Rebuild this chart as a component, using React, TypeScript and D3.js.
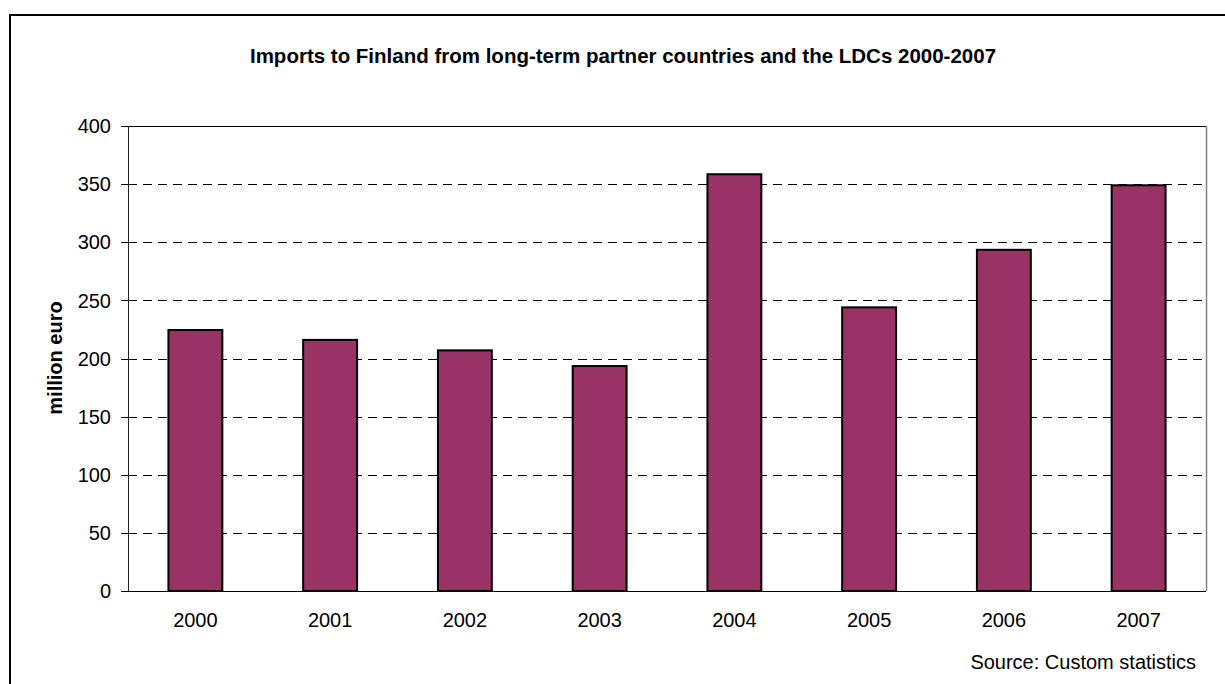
import React from "react";
import * as d3 from "d3";

const years = ["2000", "2001", "2002", "2003", "2004", "2005", "2006", "2007"];
const imports = [224.5, 216, 207, 193.5, 358.5, 244, 293.5, 349];
const yTicks = [0, 50, 100, 150, 200, 250, 300, 350, 400];

const W = 1225;
const H = 684;
const M = { left: 128, right: 1206, top: 126, bottom: 591 };
const FONT = "'Liberation Sans', Arial, sans-serif";

export default function App() {
  const x = d3
    .scaleBand<string>()
    .domain(years)
    .range([M.left, M.right])
    .paddingInner(0.6)
    .paddingOuter(0.3);
  const y = d3.scaleLinear().domain([0, 400]).range([M.bottom, M.top]);

  return (
    <div style={{ position: "absolute", left: 0, top: 0 }}>
      <svg width={W} height={H} style={{ display: "block", background: "#fff" }}>
        <rect x={0} y={0} width={W} height={H} fill="#fff" />
        {/* outer frame */}
        <rect x={10} y={15} width={W + 20} height={H + 20} fill="none" stroke="#000" strokeWidth={2} />
        <text
          x={623}
          y={63}
          textAnchor="middle"
          fontFamily={FONT}
          fontWeight="bold"
          fontSize={20.5}
          fill="#000"
        >
          Imports to Finland from long-term partner countries and the LDCs 2000-2007
        </text>
        {/* gridlines */}
        {yTicks
          .filter((t) => t > 0 && t < 400)
          .map((t) => (
            <line
              key={t}
              x1={M.left}
              x2={M.right}
              y1={Math.round(y(t)) + 0.5}
              y2={Math.round(y(t)) + 0.5}
              stroke="#000"
              strokeWidth={1}
              strokeDasharray="9,6"
            />
          ))}
        {/* top & right plot borders */}
        <line x1={M.left} x2={M.right} y1={M.top + 0.5} y2={M.top + 0.5} stroke="#000" strokeWidth={1} />
        <line x1={M.right + 0.5} x2={M.right + 0.5} y1={M.top} y2={M.bottom} stroke="#808080" strokeWidth={1.5} />
        {/* bars */}
        {years.map((yr, i) => (
          <rect
            key={yr}
            x={x(yr)}
            y={y(imports[i])}
            width={x.bandwidth()}
            height={M.bottom - y(imports[i])}
            fill="#993366"
            stroke="#000"
            strokeWidth={2}
          />
        ))}
        {/* axes */}
        <line x1={M.left + 0.5} x2={M.left + 0.5} y1={M.top} y2={M.bottom} stroke="#222" strokeWidth={1} />
        <line x1={M.left} x2={M.right} y1={M.bottom + 0.5} y2={M.bottom + 0.5} stroke="#000" strokeWidth={1} />
        {yTicks.map((t) => (
          <g key={t}>
            <line
              x1={121}
              x2={M.left}
              y1={Math.round(y(t)) + 0.5}
              y2={Math.round(y(t)) + 0.5}
              stroke="#000"
              strokeWidth={1}
            />
            <text
              x={111}
              y={y(t)}
              dy="0.36em"
              textAnchor="end"
              fontFamily={FONT}
              fontSize={20}
              fill="#000"
            >
              {t}
            </text>
          </g>
        ))}
        {years.map((yr) => (
          <text
            key={yr}
            x={(x(yr) as number) + x.bandwidth() / 2}
            y={627}
            textAnchor="middle"
            fontFamily={FONT}
            fontSize={20}
            fill="#000"
          >
            {yr}
          </text>
        ))}
        <text
          transform={`translate(62,358) rotate(-90)`}
          textAnchor="middle"
          fontFamily={FONT}
          fontWeight="bold"
          fontSize={20}
          fill="#000"
        >
          million euro
        </text>
        <text x={1196} y={669} textAnchor="end" fontFamily={FONT} fontSize={20} fill="#000">
          Source: Custom statistics
        </text>
      </svg>
    </div>
  );
}
